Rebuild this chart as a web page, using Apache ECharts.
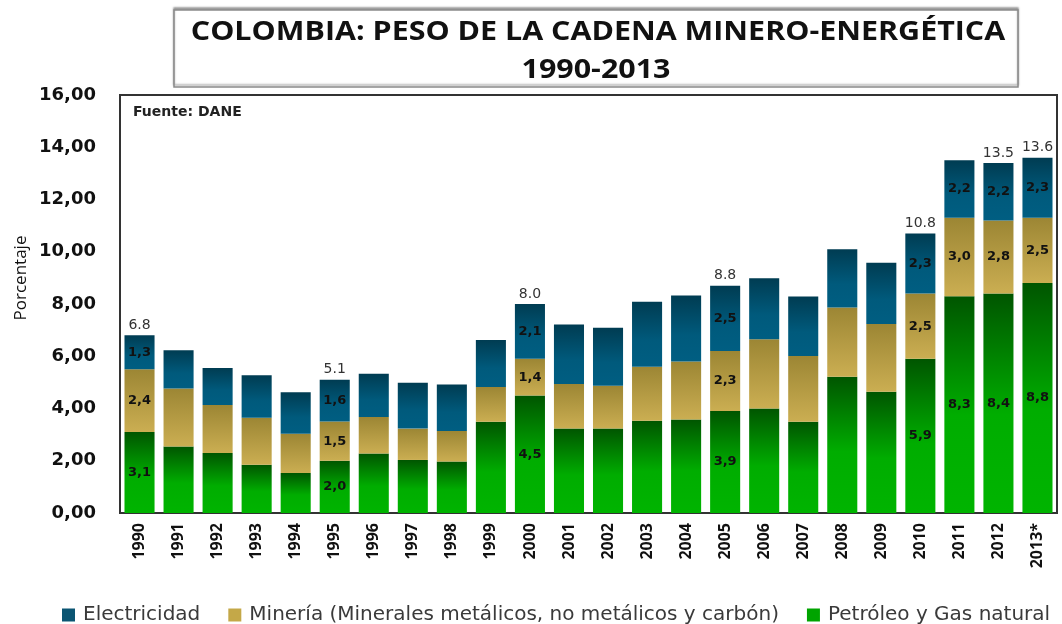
<!DOCTYPE html>
<html><head><meta charset="utf-8">
<script src="https://cdn.jsdelivr.net/npm/echarts@6/dist/echarts.min.js"></script>
<style>html,body{margin:0;padding:0;background:#fff}#c{width:1062px;height:624px}</style>
</head><body><div id="c"></div>
<script>
const years = ['1990','1991','1992','1993','1994','1995','1996','1997','1998','1999','2000','2001','2002','2003','2004','2005','2006','2007','2008','2009','2010','2011','2012','2013*'];
const petroleo = [3.1,2.55,2.3,1.85,1.53,2.0,2.28,2.03,1.97,3.49,4.5,3.23,3.23,3.53,3.58,3.9,4.0,3.49,5.22,4.64,5.9,8.3,8.4,8.8];
const mineria  = [2.4,2.22,1.83,1.8,1.5,1.5,1.39,1.2,1.17,1.33,1.4,1.71,1.64,2.07,2.22,2.3,2.65,2.52,2.65,2.59,2.5,3.0,2.8,2.5];
const electricidad = [1.3,1.46,1.42,1.62,1.59,1.6,1.66,1.76,1.78,1.8,2.1,2.28,2.22,2.49,2.53,2.5,2.34,2.28,2.23,2.35,2.3,2.2,2.2,2.3];
const totalLabels = ['6.8','','','','','5.1','','','','','8.0','','','','','8.8','','','','','10.8','','13.5','13.6'];
const labeledYears = ['1990','1995','2000','2005','2010','2011','2012','2013*'];
const yTicks = [0,2,4,6,8,10,12,14,16];
const seriesNames = ['Electricidad', 'Minería (Minerales metálicos, no metálicos y carbón)', 'Petróleo y Gas natural'];

const G = echarts.graphic.LinearGradient;
const segLabel = {
  show: true, position: 'inside', color: '#111', fontWeight: 'bold', fontSize: 13,
  fontFamily: 'DejaVu Sans',
  formatter: p => labeledYears.includes(p.name) ? p.value.toFixed(1).replace('.', ',') : ''
};
const chart = echarts.init(document.getElementById('c'));
chart.setOption({
  animation: false,
  graphic: [
    {type: 'rect', shape: {x: 174, y: 10, width: 844, height: 77},
     style: {fill: '#fff', stroke: '#8a8a8a', lineWidth: 1.5, shadowColor: 'rgba(0,0,0,0.35)', shadowOffsetX: 0, shadowOffsetY: -2, shadowBlur: 2}},
    {type: 'text', x: 598, y: 33, scaleX: 1.17, style: {text: 'COLOMBIA: PESO DE LA CADENA MINERO-ENERGÉTICA',
      font: 'bold 26px "Open Sans", sans-serif', fill: '#111', textAlign: 'center', textVerticalAlign: 'middle'}},
    {type: 'text', x: 596, y: 71, scaleX: 1.17, style: {text: '1990-2013',
      font: 'bold 26px "Open Sans", sans-serif', fill: '#111', textAlign: 'center', textVerticalAlign: 'middle'}},
    {type: 'text', x: 133, y: 112, style: {text: 'Fuente: DANE', font: 'bold 14px "DejaVu Sans"', fill: '#222', textVerticalAlign: 'middle'}},
    {type: 'text', x: 21, y: 278, rotation: Math.PI / 2, style: {text: 'Porcentaje', font: '17px "Open Sans", sans-serif',
      fill: '#111', textAlign: 'center', textVerticalAlign: 'middle'}}
  ],
  legend: {
    data: [
      {name: seriesNames[0], itemStyle: {color: '#0b5572'}},
      {name: seriesNames[1], itemStyle: {color: '#c4a848'}},
      {name: seriesNames[2], itemStyle: {color: '#00a400'}}
    ],
    top: 605, left: 62, padding: 0, itemWidth: 13, itemHeight: 13, itemGap: 28, icon: 'rect',
    textStyle: {fontSize: 20, color: '#3a3a3a', fontFamily: 'DejaVu Sans', padding: [0, 0, 0, 3]}
  },
  grid: {left: 120, right: 5, top: 95, bottom: 111, show: true, borderColor: '#333', borderWidth: 2, backgroundColor: '#fff'},
  xAxis: {
    type: 'category', data: years,
    axisTick: {show: false}, axisLine: {lineStyle: {color: '#333', width: 2}},
    axisLabel: {rotate: 90, interval: 0, fontWeight: 'bold', fontSize: 16, color: '#111', margin: 10,
      fontFamily: '"Open Sans", sans-serif'}
  },
  yAxis: {
    type: 'value', min: 0, max: 16, interval: 2,
    splitLine: {show: false}, axisTick: {show: false},
    axisLine: {show: true, lineStyle: {color: '#333', width: 2}},
    axisLabel: {fontWeight: 'bold', fontSize: 18, color: '#111', margin: 24, fontFamily: 'DejaVu Sans',
      formatter: v => yTicks.includes(v) ? v.toFixed(2).replace('.', ',') : ''}
  },
  series: [
    {name: seriesNames[2], type: 'bar', stack: 't', barWidth: '77%', data: petroleo,
     itemStyle: {color: new G(0, 0, 0, 1, [{offset: 0, color: '#005500'}, {offset: 0.55, color: '#00ad00'}, {offset: 1, color: '#00b400'}])},
     label: segLabel},
    {name: seriesNames[1], type: 'bar', stack: 't', data: mineria,
     itemStyle: {color: new G(0, 0, 0, 1, [{offset: 0, color: '#9c8634'}, {offset: 1, color: '#cbae52'}])},
     label: segLabel},
    {name: seriesNames[0], type: 'bar', stack: 't', data: electricidad,
     itemStyle: {color: new G(0, 0, 0, 1, [{offset: 0, color: '#003c52'}, {offset: 0.6, color: '#005a7c'}, {offset: 1, color: '#005e82'}])},
     label: segLabel},
    {name: 'total', type: 'bar', stack: 't', data: years.map(() => 0),
     itemStyle: {color: 'transparent'},
     label: {show: true, position: 'top', distance: 3, color: '#333', fontSize: 14, fontFamily: 'DejaVu Sans',
       formatter: p => totalLabels[p.dataIndex]}}
  ]
});
</script></body></html>
